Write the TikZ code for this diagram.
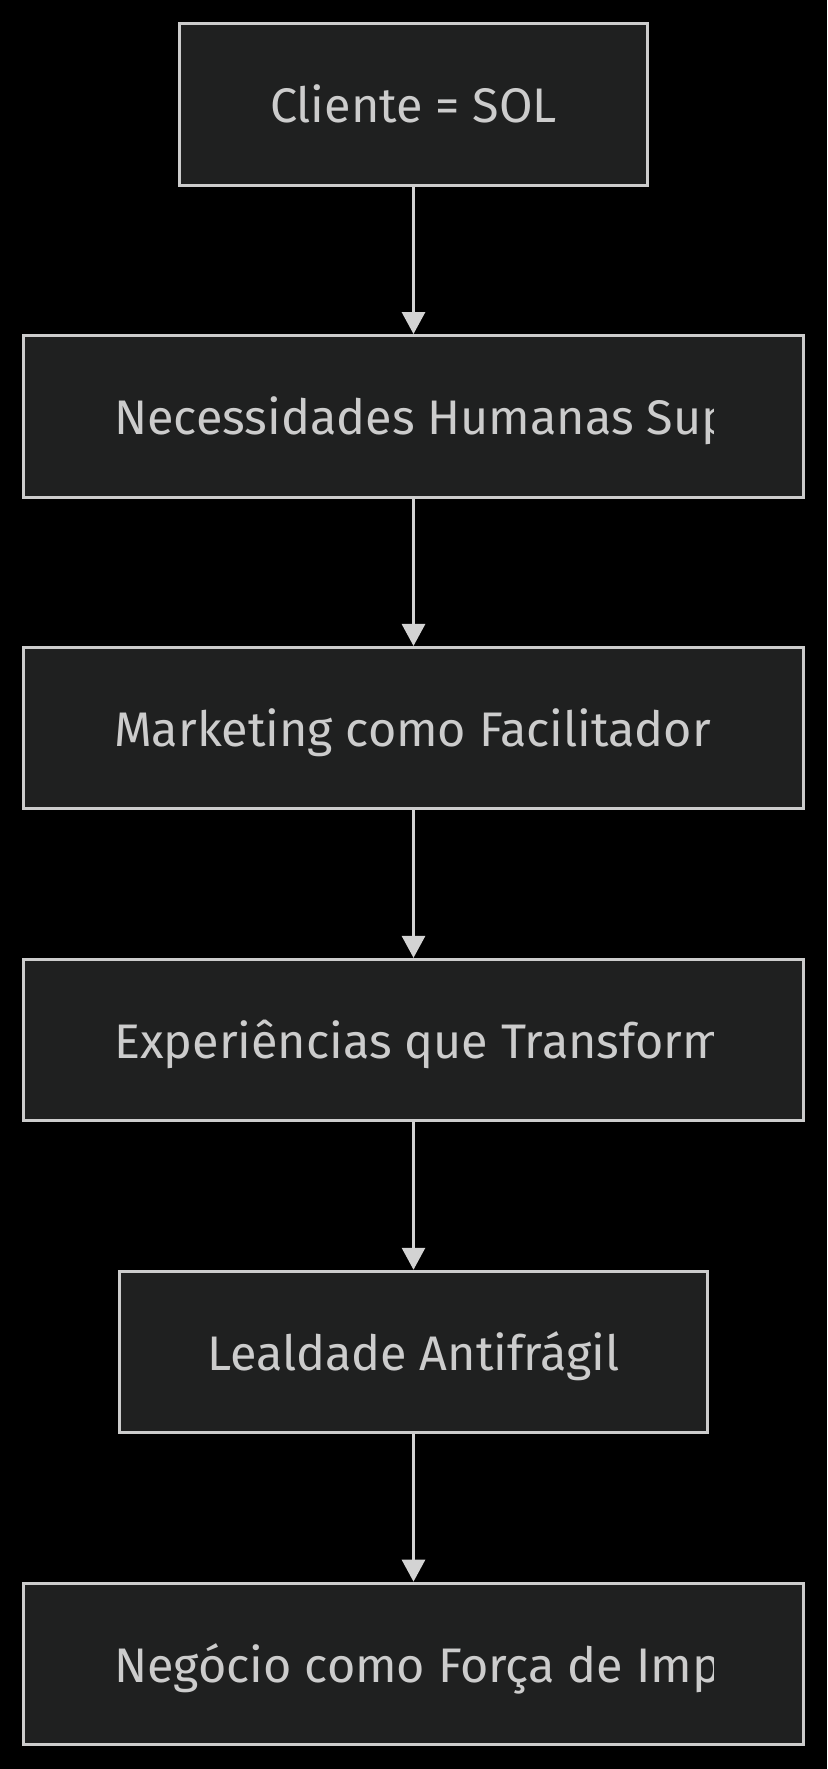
\documentclass[tikz,border=0pt]{standalone}
\usepackage{fontspec}
\setmainfont{Fira Sans}
\usetikzlibrary{arrows.meta}
\definecolor{nodefill}{HTML}{1F2020}
\definecolor{nodeline}{HTML}{CCCCCC}
\definecolor{edgecol}{HTML}{D3D3D3}
\definecolor{txtcol}{HTML}{CCCCCC}
\newlength\refw
\settowidth\refw{\fontsize{48}{58}\selectfont Cliente = SOL}
\pgfmathsetmacro\fsz{48*287/\refw}
\tikzset{
  flowbox/.style={draw=nodeline, fill=nodefill, line width=3pt, inner sep=0pt,
    minimum height=161.5pt},
  lbl/.style={text=txtcol, inner sep=0pt, font=\fontsize{\fsz}{\fsz}\selectfont},
  flowedge/.style={draw=edgecol, line width=3pt,
    -{Triangle[length=22pt,width=23pt]}},
}
\begin{document}
\begin{tikzpicture}[x=1pt,y=-1pt]
\fill[black] (0,0) rectangle (827,1769);
\useasboundingbox (0,0) rectangle (827,1769);

\node[flowbox, minimum width=468.5pt] (n1) at (413.5,104.4) {};
\node[flowbox, minimum width=779.5pt] (n2) at (413.5,416.3) {};
\node[flowbox, minimum width=779.5pt] (n3) at (413.5,728.2) {};
\node[flowbox, minimum width=779.5pt] (n4) at (413.5,1040.1) {};
\node[flowbox, minimum width=587.5pt] (n5) at (413.5,1352.0) {};
\node[flowbox, minimum width=779.5pt] (n6) at (413.5,1663.9) {};

\node[lbl, anchor=base] (t1) at (413.5,122) {Cliente = SOL};
\begin{scope}
\clip (114,0) rectangle (713,1769);
\node[lbl, anchor=base west] (t2) at (114,434) {Necessidades Humanas Superiores};
\node[lbl, anchor=base west] (t3) at (114,746) {Marketing como Facilitador};
\node[lbl, anchor=base west] (t4) at (114,1058) {Experiências que Transformam};
\node[lbl, anchor=base west] (t6) at (114,1682) {Negócio como Força de Impacto};
\end{scope}
\node[lbl, anchor=base] (t5) at (413.5,1370) {Lealdade Antifrágil};

\draw[flowedge] (n1) -- (n2);
\draw[flowedge] (n2) -- (n3);
\draw[flowedge] (n3) -- (n4);
\draw[flowedge] (n4) -- (n5);
\draw[flowedge] (n5) -- (n6);
\end{tikzpicture}
\end{document}
